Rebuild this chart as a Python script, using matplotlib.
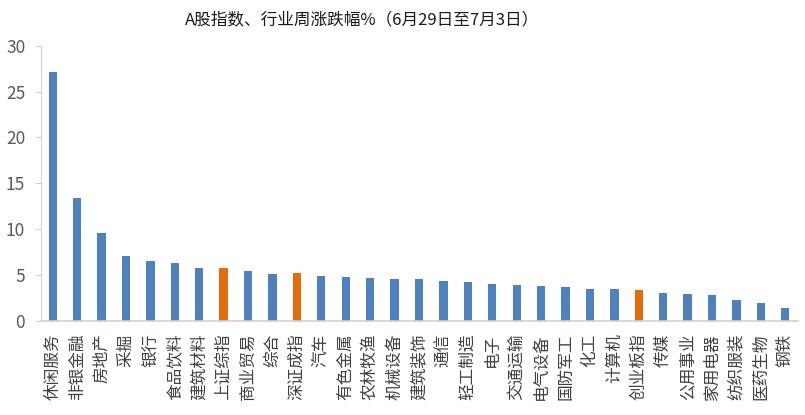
import matplotlib
matplotlib.use("Agg")
import matplotlib.pyplot as plt

plt.rcParams['font.family'] = ['Noto Sans CJK SC', 'DejaVu Sans']

categories = ["休闲服务", "非银金融", "房地产", "采掘", "银行", "食品饮料", "建筑材料", "上证综指",
              "商业贸易", "综合", "深证成指", "汽车", "有色金属", "农林牧渔", "机械设备", "建筑装饰",
              "通信", "轻工制造", "电子", "交通运输", "电气设备", "国防军工", "化工", "计算机",
              "创业板指", "传媒", "公用事业", "家用电器", "纺织服装", "医药生物", "钢铁"]
values = [27.1, 13.4, 9.6, 7.1, 6.55, 6.35, 5.8, 5.8,
          5.45, 5.12, 5.2, 4.9, 4.8, 4.7, 4.6, 4.58,
          4.36, 4.25, 4.04, 3.93, 3.82, 3.71, 3.5, 3.5,
          3.38, 3.05, 2.95, 2.84, 2.3, 1.96, 1.42]
index_names = ["上证综指", "深证成指", "创业板指"]

blue = "#4e81bd"
orange = "#e46c0a"
colors = [orange if c in index_names else blue for c in categories]

fig = plt.figure(figsize=(8.05, 4.15), dpi=100)
ax = fig.add_axes([40.5/805, 1-321/415, 757/805, (321-45.7)/415])

x = list(range(len(categories)))
ax.bar(x, values, width=0.34, color=colors, zorder=2)

ax.set_xlim(-0.5, len(categories) - 0.5)
ax.set_ylim(0, 30)
ax.set_yticks([0, 5, 10, 15, 20, 25, 30])
ax.set_xticks(x)
ax.set_xticklabels(categories, rotation=90, fontsize=12, color="#404040", va="top", ha="center")

for s in ["top", "right"]:
    ax.spines[s].set_visible(False)
ax.spines["left"].set_color("#d0d0d0")
ax.spines["left"].set_linewidth(0.8)
ax.spines["bottom"].set_color("#d0d0d0")
ax.spines["bottom"].set_linewidth(1.2)
ax.tick_params(axis="y", direction="out", length=4, color="#d0d0d0", labelsize=12.5, labelcolor="#595959", pad=7)
ax.tick_params(axis="x", length=0, pad=9)

fig.text(185/805, 1-20/415, "A股指数、行业周涨跌幅%（6月29日至7月3日）", fontsize=12, color="#1a1a1a",
         ha="left", va="center")

fig.savefig("out.png", dpi=100)
